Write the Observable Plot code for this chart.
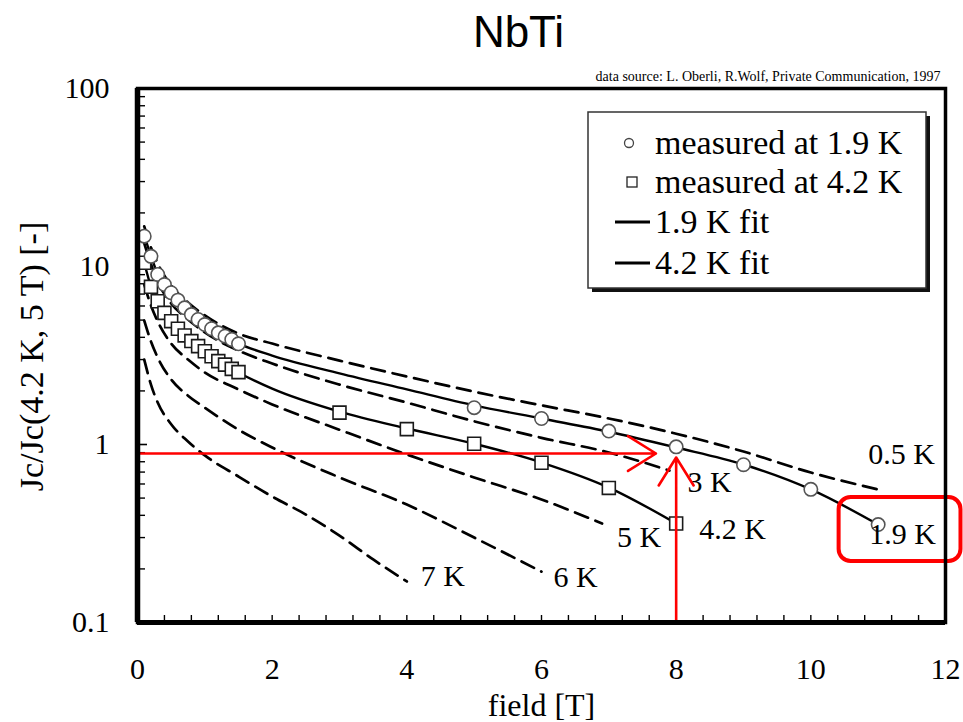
<!DOCTYPE html>
<html>
<head>
<meta charset="utf-8">
<script src="https://cdn.jsdelivr.net/npm/d3@7"></script>
<script src="https://cdn.jsdelivr.net/npm/@observablehq/plot@0.6"></script>
<style>
  html, body { margin: 0; padding: 0; background: #fff; overflow: hidden; }
  #chart svg { display: block; }
  #chart svg g[aria-label="x-axis tick label"],
  #chart svg g[aria-label="y-axis tick label"] {
    font-size: 30px;
  }
</style>
</head>
<body>
<div id="chart"></div>
<script>
// ---------- data ----------
const titleText = "NbTi";
const sourceText = "data source: L. Oberli, R.Wolf, Private Communication, 1997";
const xLabel = "field [T]";
const yLabel = "Jc/Jc(4.2 K, 5 T) [-]";
const xTickValues = [0, 2, 4, 6, 8, 10, 12];
const xTickLabels = ["0", "2", "4", "6", "8", "10", "12"];
const yTickValues = [0.1, 1, 10, 100];
const yTickLabels = ["0.1", "1", "10", "100"];
const legendLabels = ["measured at 1.9 K", "measured at 4.2 K", "1.9 K fit", "4.2 K fit"];

// measured points
const b19meas = [0.1, 0.2, 0.3, 0.4, 0.5, 0.6, 0.7, 0.8, 0.9, 1.0, 1.1, 1.2, 1.3, 1.4, 1.5, 5, 6, 7, 8, 9, 10, 11];
const jc19meas = [14.8, 11.4, 9.02, 7.92, 7.12, 6.47, 5.86, 5.37, 5.04, 4.72, 4.47, 4.24, 4.06, 3.89, 3.68, 1.61, 1.40, 1.19, 0.97, 0.77, 0.56, 0.355];
const b42meas = [0.1, 0.2, 0.3, 0.4, 0.5, 0.6, 0.7, 0.8, 0.9, 1.0, 1.1, 1.2, 1.3, 1.4, 1.5, 3, 4, 5, 6, 7, 8];
const jc42meas = [10.5, 7.69, 6.38, 5.49, 4.93, 4.47, 4.10, 3.81, 3.57, 3.34, 3.13, 2.94, 2.81, 2.66, 2.55, 1.51, 1.22, 1.01, 0.79, 0.57, 0.36];

// fits (solid)
const b19fit = [0.1, 0.2, 0.3, 0.5, 0.75, 1, 1.5, 2, 3, 4, 5, 6, 7, 8, 9, 10, 11];
const jc19fit = [14.9, 11.5, 9.02, 7.14, 5.66, 4.72, 3.69, 3.16, 2.51, 2.04, 1.66, 1.40, 1.18, 0.962, 0.772, 0.559, 0.355];
const b42fit = [0.1, 0.2, 0.3, 0.5, 0.75, 1, 1.5, 2, 3, 4, 5, 6, 7, 8];
const jc42fit = [10.5, 7.72, 6.36, 4.91, 3.99, 3.33, 2.54, 2.06, 1.53, 1.23, 1.01, 0.792, 0.573, 0.36];

// extrapolated curves (dashed)
const b05 = [0.1, 0.2, 0.3, 0.5, 0.75, 1, 1.5, 2, 3, 4, 5, 6, 7, 8, 9, 10, 11];
const jc05 = [16.8, 12.8, 10.4, 7.82, 6.28, 5.31, 4.20, 3.69, 2.96, 2.41, 1.98, 1.66, 1.40, 1.15, 0.913, 0.696, 0.559];
const b3 = [0.1, 0.2, 0.3, 0.5, 0.75, 1, 1.5, 2, 3, 4, 5, 6, 7, 7.9];
const jc3 = [13.5, 10.3, 8.24, 6.20, 5.04, 4.26, 3.37, 2.85, 2.17, 1.72, 1.35, 1.09, 0.902, 0.714];
const b5 = [0.1, 0.2, 0.3, 0.5, 0.75, 1, 1.5, 2, 3, 4, 5, 6, 6.9];
const jc5 = [7.92, 6.04, 4.91, 3.69, 3.00, 2.54, 2.04, 1.68, 1.21, 0.879, 0.653, 0.491, 0.36];
const b6 = [0.1, 0.2, 0.3, 0.5, 0.75, 1, 1.5, 2, 3, 4, 5, 6];
const jc6 = [4.97, 3.79, 3.08, 2.32, 1.88, 1.61, 1.21, 0.962, 0.653, 0.46, 0.30, 0.193];
const b7 = [0.1, 0.2, 0.3, 0.5, 0.75, 1, 1.5, 2, 2.5, 3, 3.5, 4];
const jc7 = [3.00, 2.17, 1.72, 1.30, 1.04, 0.868, 0.661, 0.51, 0.404, 0.308, 0.226, 0.17];

// annotations (red)
const markedField = 8;        // T
const markedRatio = 0.89;     // horizontal reference
const arrowTipField = 7.7;
const arrowTipRatio = 0.845;
const highlightBox = {x1: 10.42, x2: 12.23, y1: 0.22, y2: 0.504};

// ---------- build rows ----------
const rows = (b, v, name) => b.map((x, i) => ({B: x, J: v[i], series: name}));
const dashed = [
  rows(b05, jc05, "0.5 K"), rows(b3, jc3, "3 K"), rows(b5, jc5, "5 K"),
  rows(b6, jc6, "6 K"), rows(b7, jc7, "7 K")
];
const solid = [rows(b19fit, jc19fit, "1.9 K"), rows(b42fit, jc42fit, "4.2 K")];
const circles = rows(b19meas, jc19meas, "1.9 K meas");
const squares = rows(b42meas, jc42meas, "4.2 K meas");

// curve labels: placed relative to the end point of each curve
const curveLabels = [
  {series: dashed[0], text: "0.5 K", dx: -10, dy: -35},
  {series: solid[0],  text: "1.9 K", dx: -9,  dy: 10},
  {series: solid[1],  text: "4.2 K", dx: 23,  dy: 6},
  {series: dashed[1], text: "3 K",   dx: 18,  dy: 12},
  {series: dashed[2], text: "5 K",   dx: 15,  dy: 14},
  {series: dashed[3], text: "6 K",   dx: 12,  dy: 6},
  {series: dashed[4], text: "7 K",   dx: 14,  dy: -5}
];

// ---------- layout ----------
const W = 963, H = 722;
const mL = 137, mR = 18, mT = 88, mB = 100;
const plotW = W - mL - mR, plotH = H - mT - mB;
const serif = "'Liberation Serif', 'Times New Roman', serif";
const sans = "'Liberation Sans', Arial, sans-serif";

const xMinor = d3.range(1, 30).map(i => i * 0.4);
const yMinor = [];
for (const dec of [0.1, 1, 10]) for (let k = 2; k <= 9; k++) yMinor.push(+(dec * k).toPrecision(3));

const chart = Plot.plot({
  width: W, height: H,
  marginLeft: mL, marginRight: mR, marginTop: mT, marginBottom: mB,
  style: {fontFamily: serif, fontSize: "30px", background: "#fff", color: "#000"},
  x: {domain: [0, 12]},
  y: {type: "log", domain: [0.1, 100]},
  marks: [
    // inward ticks
    Plot.ruleX(xMinor, {x: d => d, insetTop: plotH - 7, stroke: "#000", strokeWidth: 1.4}),
    Plot.ruleY(yMinor, {y: d => d, insetRight: plotW - 8, stroke: "#000", strokeWidth: 1.4}),
    Plot.ruleY([1, 10], {y: d => d, insetRight: plotW - 10, stroke: "#000", strokeWidth: 1.6}),

    // dashed extrapolations
    ...dashed.map(d => Plot.line(d, {x: "B", y: "J", stroke: "#000", strokeWidth: 2.7,
      strokeDasharray: "14,8", curve: "monotone-x"})),
    // solid fits
    ...solid.map(d => Plot.line(d, {x: "B", y: "J", stroke: "#000", strokeWidth: 2.4, curve: "monotone-x"})),

    // measured points
    Plot.dot(squares, {x: "B", y: "J", symbol: "square", r: 7.3, fill: "#fff", stroke: "#1a1a1a", strokeWidth: 1.6}),
    Plot.dot(circles, {x: "B", y: "J", symbol: "circle", r: 6.7, fill: "#fff", stroke: "#555", strokeWidth: 1.6}),

    // red annotations
    Plot.arrow([{x1: 0, y1: markedRatio, x2: arrowTipField, y2: markedRatio}],
      {x1: "x1", y1: "y1", x2: "x2", y2: "y2", stroke: "#f00", strokeWidth: 2.6, headLength: 19, headAngle: 64}),
    Plot.arrow([{x1: markedField, y1: 0.1, x2: markedField, y2: arrowTipRatio}],
      {x1: "x1", y1: "y1", x2: "x2", y2: "y2", stroke: "#f00", strokeWidth: 2.6, headLength: 19, headAngle: 64}),
    Plot.rect([highlightBox], {x1: "x1", x2: "x2", y1: "y1", y2: "y2", fill: "none",
      stroke: "#f00", strokeWidth: 4, rx: 12, clip: false}),

    // curve labels
    ...curveLabels.map(l => Plot.text([l.series[l.series.length - 1]], {
      x: "B", y: "J", text: () => l.text, dx: l.dx, dy: l.dy, textAnchor: "start",
      fontSize: 30, fill: "#000"
    })),

    // axes
    Plot.axisX({ticks: xTickValues, tickFormat: d => xTickLabels[xTickValues.indexOf(d)],
      tickSize: 0, tickPadding: 35, label: null, fontSize: 30}),
    Plot.axisY({ticks: yTickValues, tickFormat: d => yTickLabels[yTickValues.indexOf(d)],
      tickSize: 0, tickPadding: 28, label: null, fontSize: 30}),

    // frame (thicker left & bottom)
    Plot.frame({stroke: "#000", strokeWidth: 3.5}),
    Plot.ruleX([0], {stroke: "#000", strokeWidth: 5.5}),
    Plot.ruleY([0.1], {stroke: "#000", strokeWidth: 5}),

    // titles
    Plot.text([xLabel], {frameAnchor: "bottom", dy: 83, fontSize: 32,
      textAnchor: "middle", lineAnchor: "middle"}),
    Plot.text([yLabel], {frameAnchor: "left", dx: -105, dy: 1, rotate: -90, fontSize: 34,
      textAnchor: "middle", lineAnchor: "middle"}),
    Plot.text([titleText], {frameAnchor: "top", dx: -23, dy: -56, fontSize: 44,
      textAnchor: "middle", lineAnchor: "middle"}),
    Plot.text([sourceText], {frameAnchor: "top-right", dx: -5, dy: -12, fontSize: 14,
      textAnchor: "end", lineAnchor: "middle"})
  ]
});

document.getElementById("chart").appendChild(chart);

// fonts: serif everywhere, sans for the title
const svg = d3.select(chart);
svg.selectAll("text").style("font-family", serif);
svg.selectAll("text").filter(function () { return this.textContent === titleText; })
  .style("font-family", sans);

// ---------- legend box ----------
const lg = svg.append("g");
const bx = 588, by = 112, bw = 338, bh = 176;
lg.append("rect").attr("x", bx + 4).attr("y", by + 4).attr("width", bw).attr("height", bh).attr("fill", "#111");
lg.append("rect").attr("x", bx).attr("y", by).attr("width", bw).attr("height", bh)
  .attr("fill", "#fff").attr("stroke", "#333").attr("stroke-width", 1.5);
const rowY = [143, 182, 222, 263];
lg.append("circle").attr("cx", 629).attr("cy", rowY[0]).attr("r", 4.5)
  .attr("fill", "#fff").attr("stroke", "#444").attr("stroke-width", 1.3);
lg.append("rect").attr("x", 627).attr("y", rowY[1] - 5).attr("width", 10).attr("height", 10)
  .attr("fill", "#fff").attr("stroke", "#222").attr("stroke-width", 1.3);
[2, 3].forEach(i => lg.append("line").attr("x1", 615).attr("x2", 650)
  .attr("y1", rowY[i]).attr("y2", rowY[i]).attr("stroke", "#000").attr("stroke-width", 3));
legendLabels.forEach((t, i) => lg.append("text")
  .attr("x", 655).attr("y", rowY[i] + 11)
  .attr("text-anchor", "start")
  .style("font-family", serif).style("font-size", "34px")
  .attr("fill", "#000").text(t));
</script>
</body>
</html>
